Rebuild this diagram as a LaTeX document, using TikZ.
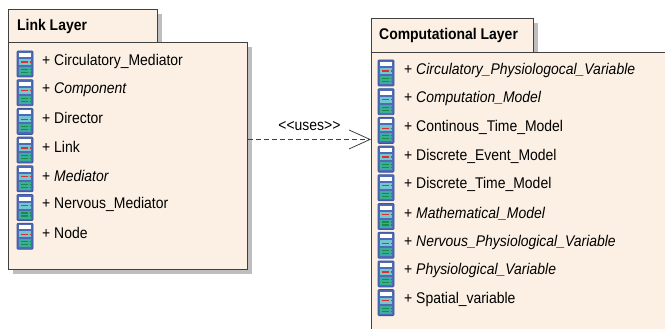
\documentclass[tikz,border=0pt]{standalone}
\usepackage{fontspec}
\setmainfont{Liberation Sans}[FakeStretch=0.9]
\usepackage{tikz}
\usetikzlibrary{positioning,shadows,arrows.meta}

\definecolor{pkgfill}{HTML}{FBF0E3}
\definecolor{pkgline}{HTML}{404040}
\definecolor{shadowgrey}{HTML}{BEBEBE}
\definecolor{iconblue}{HTML}{4F6BB5}
\definecolor{iconedge}{HTML}{3B55A0}
\definecolor{iconcyan}{HTML}{72C6D2}
\definecolor{iconteal}{HTML}{3AAE9A}
\definecolor{iconred}{HTML}{E0302E}
\definecolor{icongreen}{HTML}{1D8A4A}

\tikzset{
  pkgbox/.style={draw=pkgline, fill=pkgfill, line width=0.9pt, inner sep=0pt,
    anchor=north west,
    drop shadow={shadow xshift=5pt, shadow yshift=-5pt, fill=shadowgrey, opacity=1}},
  pkgtitle/.style={anchor=west, inner sep=0pt, font=\fontsize{15.5}{17}\selectfont\bfseries},
  member/.style={anchor=west, inner sep=0pt, font=\fontsize{15.5}{17}\selectfont},
  dep/.style={draw=pkgline, line width=0.8pt, dash pattern=on 5pt off 3pt,
    -{Straight Barb[length=21pt,width=19pt,line width=0.8pt]}},
  classicon/.pic={
    \draw[iconedge, fill=iconblue, line width=0.8pt, rounded corners=1pt] (-8,-13) rectangle (8,13);
    \fill[white] (-6,-11) rectangle (6,-7);
    \fill[iconcyan] (-6,-5) rectangle (6,1);
    \draw[iconred, line width=1.3pt] (-4,-2) -- (3,-2) (4.5,-2) -- (5.5,-2);
    \fill[iconteal] (-6,3) rectangle (6,11);
    \draw[icongreen, line width=1.2pt] (-4,5.5) -- (3,5.5) (4.5,5.5) -- (5.5,5.5)
      (-4,8.5) -- (3,8.5) (4.5,8.5) -- (5.5,8.5);
  }
}

\begin{document}
\begin{tikzpicture}[x=1pt, y=-1pt]

  \useasboundingbox (0,0) rectangle (665,329);
  \clip (0,0) rectangle (665,329);

  % Link Layer package
  \node[pkgbox, minimum width=149pt, minimum height=34pt] (linktab) at (8,9) {};
  \node[pkgbox, minimum width=239pt, minimum height=227pt] (linkbody) at (8,42) {};
  \node[pkgtitle] (linktitle) at (17,26) {Link Layer};

  % Computational Layer package
  \node[pkgbox, minimum width=162pt, minimum height=34pt] (comptab) at (371,18) {};
  \node[pkgbox, minimum width=320pt, minimum height=300pt] (compbody) at (371,52) {};
  \node[pkgtitle] (comptitle) at (379,35) {Computational Layer};

  % members of Link Layer
  \pic at (25,64)    {classicon};
  \node[member] (link1) at (42,61)    {+ Circulatory\_Mediator};
  \pic at (25,92.7)  {classicon};
  \node[member] (link2) at (42,89.7)  {+ \itshape Component};
  \pic at (25,121.4) {classicon};
  \node[member] (link3) at (42,118.4) {+ Director};
  \pic at (25,150.1) {classicon};
  \node[member] (link4) at (42,147.1) {+ Link};
  \pic at (25,178.8) {classicon};
  \node[member] (link5) at (42,175.8) {+ \itshape Mediator};
  \pic at (25,207.5) {classicon};
  \node[member] (link6) at (42,204.5) {+ Nervous\_Mediator};
  \pic at (25,236.2) {classicon};
  \node[member] (link7) at (42,233.2) {+ Node};

  % members of Computational Layer
  \pic at (386,73)    {classicon};
  \node[member] (comp1) at (404,70)    {+ \itshape Circulatory\_Physiologocal\_Variable};
  \pic at (386,101.7) {classicon};
  \node[member] (comp2) at (404,98.7)  {+ \itshape Computation\_Model};
  \pic at (386,130.4) {classicon};
  \node[member] (comp3) at (404,127.4) {+ Continous\_Time\_Model};
  \pic at (386,159.1) {classicon};
  \node[member] (comp4) at (404,156.1) {+ Discrete\_Event\_Model};
  \pic at (386,187.8) {classicon};
  \node[member] (comp5) at (404,184.8) {+ Discrete\_Time\_Model};
  \pic at (386,216.5) {classicon};
  \node[member] (comp6) at (404,213.5) {+ \itshape Mathematical\_Model};
  \pic at (386,245.2) {classicon};
  \node[member] (comp7) at (404,242.2) {+ \itshape Nervous\_Physiological\_Variable};
  \pic at (386,273.9) {classicon};
  \node[member] (comp8) at (404,270.9) {+ \itshape Physiological\_Variable};
  \pic at (386,302.6) {classicon};
  \node[member] (comp9) at (404,299.6) {+ Spatial\_variable};

  % dependency
  \coordinate (usesstart) at ([yshift=16.5pt]linkbody.east);
  \draw[dep] (usesstart) -- (usesstart -| compbody.west)
    node[midway, above=5pt, font=\fontsize{15.5}{17}\selectfont] (uses) {<{}<uses>{}>};

\end{tikzpicture}
\end{document}
